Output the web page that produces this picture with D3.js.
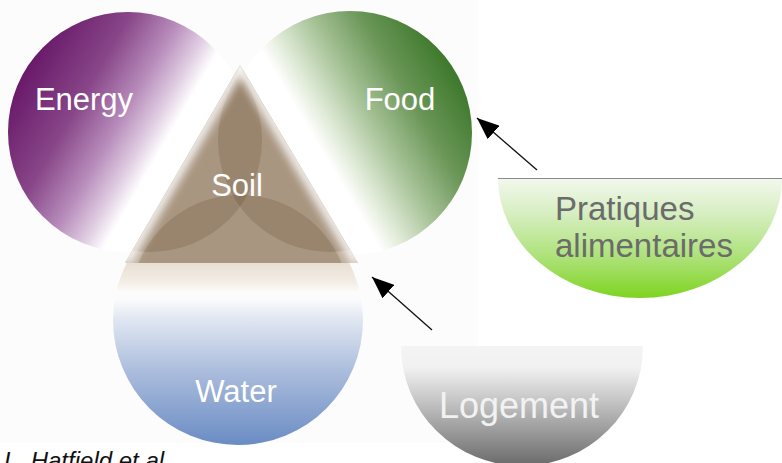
<!DOCTYPE html>
<html lang="en">
  <head>
    <meta charset="utf-8" />
    <title>Energy Food Water Soil</title>
    <style>
      body { margin: 0; background: #ffffff; }
      svg { display: block; font-family: "Liberation Sans", Arial, sans-serif; }
    </style>
  </head>
  <body>
    <div id="diagram"></div>
    <script src="https://d3js.org/d3.v7.min.js"></script>
    <script>
      // labels of the diagram
      const circleLabels = ["Energy", "Food", "Water"];
      const soilLabel = "Soil";
      const foodPractice = ["Pratiques", "alimentaires"];
      const housing = ["Logement"];
      const credit = "L. Hatfield et al.";

      const width = 782, height = 463;

      const svg = d3.select("#diagram").append("svg")
        .attr("width", width).attr("height", height);
      const defs = svg.append("defs");

      const addGradient = (id, x1, y1, x2, y2, stops) => {
        const g = defs.append("linearGradient").attr("id", id)
          .attr("gradientUnits", "userSpaceOnUse")
          .attr("x1", x1).attr("y1", y1).attr("x2", x2).attr("y2", y2);
        stops.forEach(s => g.append("stop").attr("offset", s[0]).attr("stop-color", s[1]));
      };

      // triangle corners
      const apex = [240, 65], baseL = [125, 263], baseR = [358, 263];

      // gradients go across the triangle edges
      addGradient("energyGrad", -35, 170, 125, 263, [
        [0, "#681868"], [0.35, "#884688"], [0.59, "#b78cbb"],
        [0.76, "#e2d0e4"], [0.86, "#ffffff"], [1, "#ffffff"]]);
      addGradient("foodGrad", 240, 65, 399, -30, [
        [0, "#ffffff"], [0.14, "#ffffff"], [0.25, "#e2ecda"],
        [0.45, "#a9c49a"], [0.7, "#6a9657"], [1, "#3a7628"]]);
      addGradient("waterGrad", 0, 263, 0, 445, [
        [0, "#e9e0d4"], [0.1, "#f2ece4"], [0.16, "#fdfcfa"], [0.2, "#fbfbfd"],
        [0.3, "#e2e8f2"], [0.6, "#aabcdc"], [1, "#6a8cc4"]]);
      addGradient("greenGrad", 0, 178, 0, 298, [
        [0, "#f3f8ee"], [0.3, "#d6eec0"], [0.7, "#a8e070"], [1, "#7ed420"]]);
      addGradient("greyGrad", 0, 346, 0, 466, [
        [0, "#f4f4f4"], [0.18, "#f1f1f1"], [0.45, "#c6c6c6"], [1, "#6a6a6a"]]);

      defs.append("filter").attr("id", "soft")
        .attr("x", "-20%").attr("y", "-20%").attr("width", "140%").attr("height", "140%")
        .append("feGaussianBlur").attr("stdDeviation", 4);

      const triPath = d3.path();
      triPath.moveTo(...apex); triPath.lineTo(...baseR); triPath.lineTo(...baseL); triPath.closePath();
      defs.append("clipPath").attr("id", "triClip").append("path").attr("d", triPath.toString());
      defs.append("clipPath").attr("id", "waterClip").append("rect")
        .attr("x", 0).attr("y", 263).attr("width", width).attr("height", 200);

      defs.append("marker").attr("id", "head")
        .attr("markerUnits", "userSpaceOnUse")
        .attr("markerWidth", 24).attr("markerHeight", 18)
        .attr("refX", 22).attr("refY", 9).attr("orient", "auto")
        .append("path").attr("d", "M0,0 L22,9 L0,18 Z").attr("fill", "#000");

      // light backdrop of the pasted figure
      svg.append("rect").attr("x", 0).attr("y", 0).attr("width", 478).attr("height", 443)
        .attr("fill", "#fcfcfc");

      // the three big circles
      const circles = [
        { label: circleLabels[0], cx: 128, cy: 132, r: 120, fill: "url(#energyGrad)", tx: 84, ty: 110 },
        { label: circleLabels[1], cx: 350, cy: 133, r: 122, fill: "url(#foodGrad)", tx: 400, ty: 110 },
        { label: circleLabels[2], cx: 238, cy: 320, r: 125, fill: "url(#waterGrad)", tx: 236, ty: 402, clip: "url(#waterClip)" }
      ];

      svg.selectAll("circle.big").data(circles).enter().append("circle")
        .attr("class", "big")
        .attr("cx", d => d.cx).attr("cy", d => d.cy).attr("r", d => d.r)
        .attr("fill", d => d.fill)
        .attr("clip-path", d => d.clip || null);

      // soil triangle with the overlapping inner circles
      const soil = svg.append("g");
      soil.append("path").attr("d", triPath.toString()).attr("fill", "#bdad9a");
      const inner = soil.append("g").attr("clip-path", "url(#triClip)");
      inner.selectAll("circle").data([[150, 140, 112], [330, 140, 112], [240, 305, 110]])
        .enter().append("circle")
        .attr("cx", d => d[0]).attr("cy", d => d[1]).attr("r", d => d[2])
        .attr("fill", "rgb(90,58,30)").attr("fill-opacity", 0.2);
      inner.append("path")
        .attr("d", `M${baseL[0]},${baseL[1]} L${apex[0]},${apex[1]} L${baseR[0]},${baseR[1]}`)
        .attr("fill", "none").attr("stroke", "#ffffff").attr("stroke-width", 12)
        .attr("stroke-opacity", 0.85).attr("filter", "url(#soft)");

      svg.selectAll("text.big").data(circles).enter().append("text")
        .attr("class", "big")
        .attr("x", d => d.tx).attr("y", d => d.ty)
        .attr("text-anchor", "middle").attr("font-size", 31).attr("fill", "#ffffff")
        .text(d => d.label);
      svg.append("text").attr("x", 237).attr("y", 196)
        .attr("text-anchor", "middle").attr("font-size", 31).attr("fill", "#ffffff")
        .text(soilLabel);

      // half discs on the right
      const halfDisc = (cx, top, rx, ry) =>
        `M${cx - rx},${top} A${rx},${ry} 0 0,0 ${cx + rx},${top} Z`;

      svg.append("path").attr("d", halfDisc(640, 178, 142, 120))
        .attr("fill", "url(#greenGrad)");
      svg.append("line").attr("x1", 498).attr("x2", 782).attr("y1", 178.5).attr("y2", 178.5)
        .attr("stroke", "#8a8a8a").attr("stroke-width", 1);
      svg.append("g").selectAll("text").data(foodPractice).enter().append("text")
        .attr("x", 555).attr("y", (d, i) => 220 + i * 37)
        .attr("font-size", 33).attr("fill", "#6b6b6b")
        .text(d => d);

      svg.append("path").attr("d", halfDisc(522, 346, 121, 120))
        .attr("fill", "url(#greyGrad)");
      svg.append("g").selectAll("text").data(housing).enter().append("text")
        .attr("x", 519).attr("y", 418).attr("text-anchor", "middle")
        .attr("font-size", 36).attr("fill", "#f2f2f2")
        .text(d => d);

      // arrows
      const arrows = [[537, 170, 477, 118], [432, 330, 372, 277]];
      svg.selectAll("line.arrow").data(arrows).enter().append("line")
        .attr("class", "arrow")
        .attr("x1", d => d[0]).attr("y1", d => d[1]).attr("x2", d => d[2]).attr("y2", d => d[3])
        .attr("stroke", "#111").attr("stroke-width", 1.3)
        .attr("marker-end", "url(#head)");

      // credit, cut by the bottom edge as in the slide
      svg.append("text").attr("x", 4).attr("y", 469)
        .attr("font-size", 24).attr("font-style", "italic").attr("fill", "#111")
        .text(credit);
    </script>
  </body>
</html>
